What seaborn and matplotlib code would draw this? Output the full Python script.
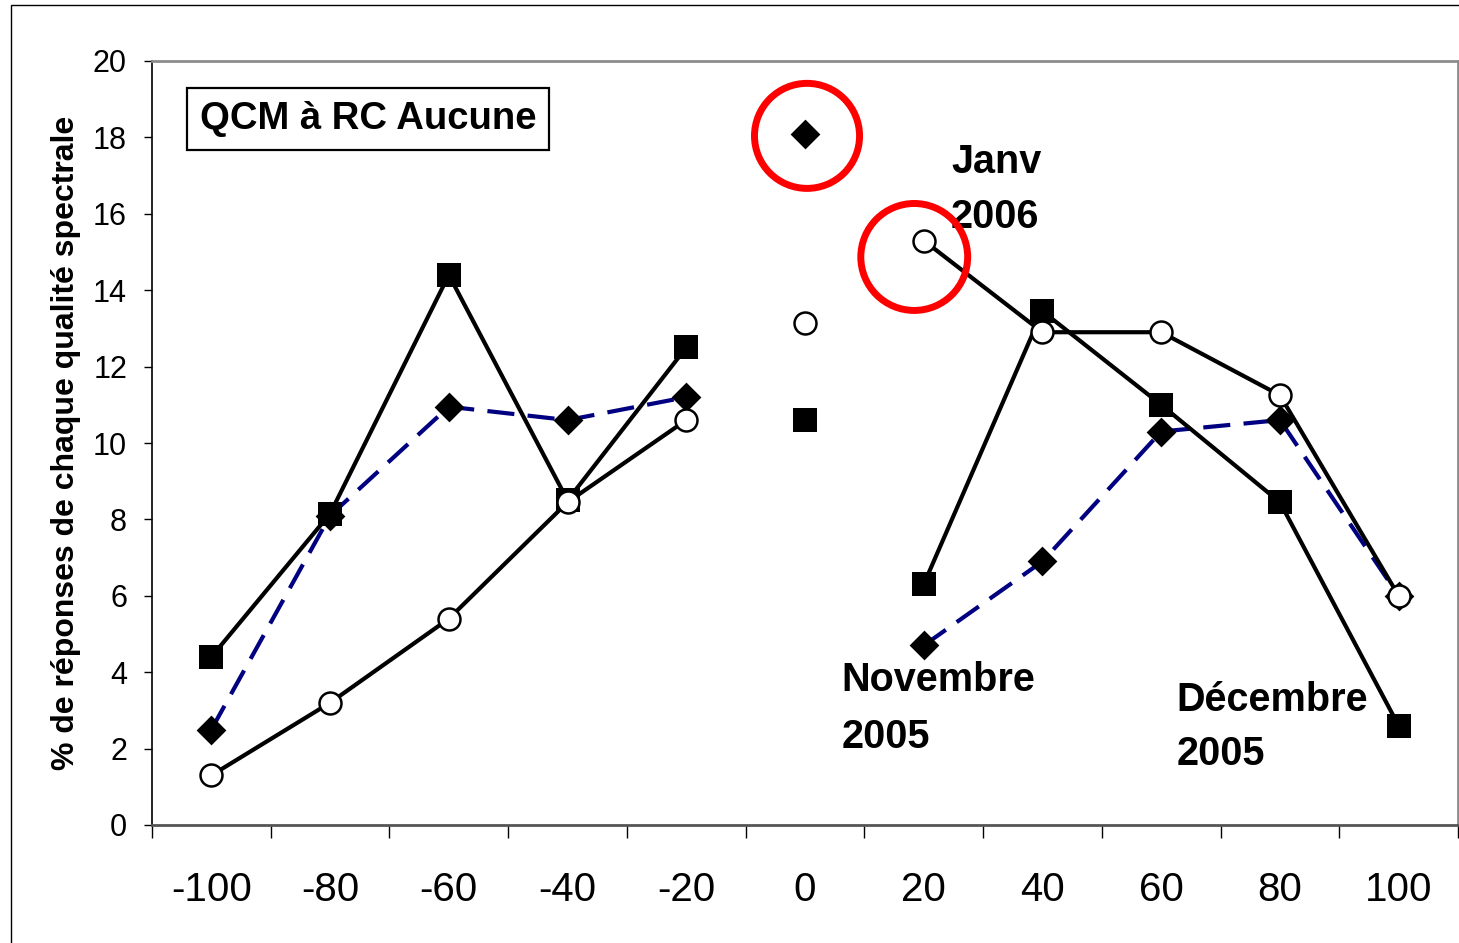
import pandas as pd
import seaborn as sns
from matplotlib import pyplot as plt
from matplotlib.patches import Ellipse, Rectangle

# valeurs
x_vals = [-100, -80, -60, -40, -20, 0, 20, 40, 60, 80, 100]
novembre = [2.5, 8.1, 10.95, 10.6, 11.2, 18.1, 4.7, 6.9, 10.3, 10.6, 6.0]
decembre = [4.4, 8.15, 14.4, 8.5, 12.5, 10.6, 6.3, 13.45, 11.0, 8.45, 2.6]
janvier = [1.3, 3.2, 5.4, 8.45, 10.6, 13.15, 15.3, 12.9, 12.9, 11.25, 6.0]
x_labels = ["-100", "-80", "-60", "-40", "-20", "0", "20", "40", "60", "80", "100"]

sns.set_theme(style="white")
narrow = ["Liberation Sans Narrow", "Liberation Sans", "DejaVu Sans"]
plt.rcParams["font.family"] = ["Liberation Sans", "DejaVu Sans"]
plt.rcParams["text.color"] = "black"
plt.rcParams["axes.labelcolor"] = "black"
plt.rcParams["xtick.color"] = "black"
plt.rcParams["ytick.color"] = "black"

rows = []
for name, vals in [("nov", novembre), ("dec", decembre), ("jan", janvier)]:
    for x, y in zip(x_vals, vals):
        seg = "gauche" if x < 0 else ("milieu" if x == 0 else "droite")
        rows.append({"serie": name, "x": x, "y": y, "segment": seg})
df = pd.DataFrame(rows)

fig = plt.figure(figsize=(14.59, 9.43), dpi=100)
ax = fig.add_axes([152 / 1459, 1 - 825 / 943, 1306 / 1459, 764 / 943])

# lignes (coupees autour de 0)
d = df[(df.serie == "nov") & (df.segment != "milieu")]
sns.lineplot(data=d, x="x", y="y", units="segment", estimator=None,
             color="#000080", ax=ax, zorder=2)
for line in ax.lines:
    line.set_linewidth(3)
    line.set_linestyle((0, (6.5, 3.2)))
for name in ["dec", "jan"]:
    d = df[(df.serie == name) & (df.segment != "milieu")]
    sns.lineplot(data=d, x="x", y="y", units="segment", estimator=None,
                 color="black", linewidth=3, ax=ax, zorder=3)

# marqueurs
sns.scatterplot(data=df[df.serie == "nov"], x="x", y="y", marker="D", s=230,
                color="black", edgecolor="black", linewidth=0, ax=ax, zorder=4)
sns.scatterplot(data=df[df.serie == "dec"], x="x", y="y", marker="s", s=300,
                color="black", edgecolor="black", linewidth=0, ax=ax, zorder=5)
sns.scatterplot(data=df[df.serie == "jan"], x="x", y="y", marker="o", s=250,
                color="white", edgecolor="black", linewidth=1.8, ax=ax, zorder=6)

# cercles rouges
ax.add_patch(Ellipse((0.34, 18.04), 17.7, 2.75, fill=False, ec="red", lw=5, zorder=7))
ax.add_patch(Ellipse((18.4, 14.87), 18.0, 2.8, fill=False, ec="red", lw=5, zorder=7))

ax.set_xlim(-110, 110)
ax.set_ylim(0, 20)
ax.set_xticks(range(-110, 111, 20))
ax.set_xticklabels([])
ax.set_xticks(x_vals, minor=True)
ax.set_xticklabels(x_labels, minor=True, fontsize=29, family=narrow)
ax.tick_params(axis="x", which="major", direction="out", length=9.5, width=1,
               bottom=True)
ax.tick_params(axis="x", which="minor", length=0, pad=33, bottom=True)
ax.set_yticks(range(0, 21, 2))
ax.set_yticklabels([str(v) for v in range(0, 21, 2)], fontsize=22, family=narrow)
ax.tick_params(axis="y", direction="out", length=6, width=1, left=True, pad=12)
ax.set_xlabel("")
ax.set_ylabel("% de réponses de chaque qualité spectrale", fontsize=23,
              fontweight="bold")
ax.yaxis.set_label_coords(-0.054, 0.5)

for side in ["top", "right"]:
    ax.spines[side].set_color("#8c8c8c")
    ax.spines[side].set_linewidth(2)
ax.spines["bottom"].set_color("#555555")
ax.spines["bottom"].set_linewidth(2)
ax.spines["left"].set_color("black")
ax.spines["left"].set_linewidth(1.2)

# textes
ax.text(0.1654, 0.924, "QCM à RC Aucune", transform=ax.transAxes, ha="center",
        va="center", fontsize=27.5, fontweight="bold", family=narrow,
        bbox=dict(boxstyle="square,pad=0.33", fc="white", ec="black", lw=1.6))
ax.text(24.6, 17.85, "Janv\n2006", ha="left", va="top", fontsize=28.5,
        fontweight="bold", family=narrow, linespacing=1.55)
ax.text(6.1, 4.3, "Novembre\n2005", ha="left", va="top", fontsize=28.5,
        fontweight="bold", family=narrow, linespacing=1.65)
ax.text(62.6, 3.78, "Décembre\n2005", ha="left", va="top", fontsize=28.5,
        fontweight="bold", family=narrow, linespacing=1.55)

fig.add_artist(Rectangle((11 / 1459, -0.1), 2, 1 - 5 / 943 + 0.1,
                         transform=fig.transFigure, fill=False, ec="black", lw=1))

fig.savefig("out.png", dpi=100)
